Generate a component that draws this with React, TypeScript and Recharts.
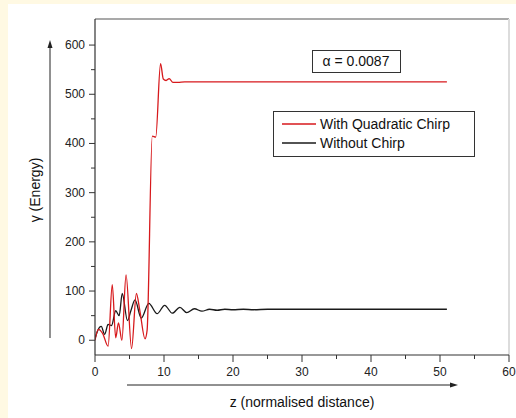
import React from 'react';
import { LineChart, Line, XAxis, YAxis, ReferenceLine } from 'recharts';

const zRed = [0, 0.5, 1.1, 1.9, 2.5, 3.0, 3.4, 3.9, 4.5, 5.3, 6.0, 6.5, 7.25, 7.55, 8.3, 8.8, 9.5, 9.9, 10.3, 10.75, 11.3, 12, 13, 51];
const gammaRed = [0, 22, 14, -12, 113, 5, 35, 0, 133, -17, 95, 60, 3, 20, 415, 413, 562, 531, 528, 532, 524, 524, 525, 525];

const zBlack = [0, 0.4, 0.9, 1.4, 1.9, 2.4, 3.0, 3.5, 3.95, 4.7, 5.2, 5.8, 6.7, 7.8, 9.0, 10.1, 11.2, 12.3, 13.3, 14.4, 15.5, 16.6, 17.7, 18.8, 20, 21.5, 23, 25, 51];
const gammaBlack = [3, 20, 28, 12, 32, 30, 60, 50, 95, 40, 60, 82, 45, 75, 54, 71, 55, 67, 56, 64, 59, 63, 61, 63, 62, 63, 62, 63, 63];

const xTicks = [0, 5, 10, 15, 20, 25, 30, 35, 40, 45, 50, 55, 60];
const yTicks = [0, 50, 100, 150, 200, 250, 300, 350, 400, 450, 500, 550, 600];
const xLabelEvery = 10;
const yLabelEvery = 100;

const seriesNames = ['With Quadratic Chirp', 'Without Chirp'];
const seriesColors = ['#d7191c', '#1a1a1a'];
const annotation = 'α = 0.0087';
const xTitle = 'z (normalised distance)';
const yTitle = 'γ (Energy)';

const redData = zRed.map((z, i) => ({ z, g: gammaRed[i] }));
const blackData = zBlack.map((z, i) => ({ z, g: gammaBlack[i] }));

const FONT = '"Liberation Sans", Arial, sans-serif';
const AXIS = '#333';

const XTick = (props: any) => {
  const { x, y, payload } = props;
  const major = payload.value % xLabelEvery === 0;
  return (
    <g>
      <line x1={x} x2={x} y1={y} y2={y + (major ? 7 : 4)} stroke={AXIS} strokeWidth={1} />
      {major && (
        <text x={x} y={y + 21} textAnchor="middle" fontSize={12} fill="#222" fontFamily={FONT}>
          {payload.value}
        </text>
      )}
    </g>
  );
};

const YTick = (props: any) => {
  const { x, y, payload } = props;
  const major = payload.value % yLabelEvery === 0;
  return (
    <g>
      <line x1={x} x2={x - (major ? 6 : 4)} y1={y} y2={y} stroke={AXIS} strokeWidth={1} />
      {major && (
        <text x={x - 10} y={y + 4} textAnchor="end" fontSize={12} fill="#222" fontFamily={FONT}>
          {payload.value}
        </text>
      )}
    </g>
  );
};

export default function App() {
  return (
    <div style={{ position: 'absolute', left: 0, top: 0, width: 516, height: 418, background: '#fff9e3', overflow: 'hidden' }}>
      <div style={{ position: 'absolute', left: 8, top: 4, width: 508, height: 414, background: '#fff' }} />
      <div style={{ position: 'absolute', left: 0, top: 0 }}>
        <LineChart width={516} height={418} margin={{ top: 19, right: 7, bottom: 0, left: 0 }}>
          <XAxis
            type="number"
            dataKey="z"
            domain={[0, 60]}
            ticks={xTicks}
            interval={0}
            height={63}
            tickSize={0}
            tickMargin={0}
            tickLine={false}
            tick={<XTick />}
            axisLine={{ stroke: AXIS, strokeWidth: 1.2 }}
            allowDataOverflow
          />
          <YAxis
            type="number"
            dataKey="g"
            domain={[-30, 653]}
            ticks={yTicks}
            interval={0}
            width={95}
            tickSize={0}
            tickMargin={0}
            tickLine={false}
            tick={<YTick />}
            axisLine={{ stroke: AXIS, strokeWidth: 1.2 }}
            allowDataOverflow
          />
          <ReferenceLine y={653} stroke="#8c8c8c" strokeWidth={1.5} />
          <ReferenceLine x={60} stroke="#dcdcdc" strokeWidth={2} />
          <Line data={blackData} dataKey="g" name={seriesNames[1]} type="monotone" stroke={seriesColors[1]} strokeWidth={1.3} dot={false} isAnimationActive={false} />
          <Line data={redData} dataKey="g" name={seriesNames[0]} type="monotone" stroke={seriesColors[0]} strokeWidth={1.3} dot={false} isAnimationActive={false} />
        </LineChart>
      </div>
      <svg width={516} height={418} style={{ position: 'absolute', left: 0, top: 0, pointerEvents: 'none' }}>
        <rect x={312.5} y={50.5} width={88} height={22} fill="#fff" stroke="#333" strokeWidth={1} />
        <text x={356} y={66} textAnchor="middle" fontSize={14} fill="#111" fontFamily={FONT}>{annotation}</text>
        <g transform="translate(273,111)">
          <rect x={0.5} y={0.5} width={201} height={45} fill="#fff" stroke="#333" strokeWidth={1} />
          {seriesNames.map((n, i) => (
            <g key={n}>
              <line x1={9} x2={43} y1={13 + i * 19} y2={13 + i * 19} stroke={seriesColors[i]} strokeWidth={1.3} />
              <text x={47} y={18 + i * 19} fontSize={14} fill="#111" fontFamily={FONT}>{n}</text>
            </g>
          ))}
        </g>
        <line x1={127} x2={452} y1={385} y2={385} stroke="#222" strokeWidth={1} />
        <path d="M458,385 L450,382.5 L450,387.5 Z" fill="#222" />
        <text x={302} y={407} textAnchor="middle" fontSize={14} fill="#111" fontFamily={FONT}>{xTitle}</text>
        <line x1={50} x2={50} y1={338} y2={46} stroke="#222" strokeWidth={1} />
        <path d="M50,40 L47.5,48 L52.5,48 Z" fill="#222" />
        <text x={0} y={0} transform="translate(40,190) rotate(-90)" textAnchor="middle" fontSize={14} fill="#111" fontFamily={FONT}>{yTitle}</text>
      </svg>
    </div>
  );
}
